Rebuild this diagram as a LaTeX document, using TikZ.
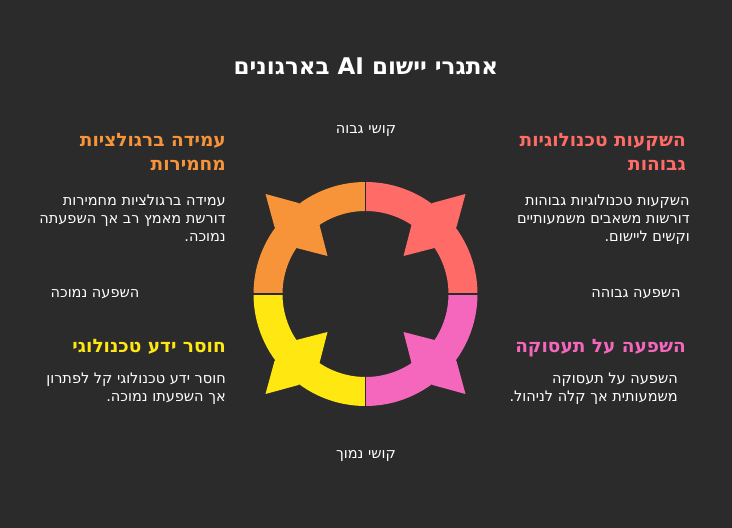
\documentclass[tikz,border=0pt]{standalone}
\usepackage{fontspec}
\setmainfont{DejaVu Sans}
\TeXXeTstate=1
\usetikzlibrary{positioning}
\definecolor{bgdark}{HTML}{2B2B2B}
\definecolor{quadred}{HTML}{FF6B66}
\definecolor{quadorange}{HTML}{F7943A}
\definecolor{quadyellow}{HTML}{FFE712}
\definecolor{quadpink}{HTML}{F467BC}
\tikzset{
  heading/.style={font=\bfseries\fontsize{18.5}{24}\selectfont, align=right, anchor=north east, inner sep=0pt},
  bodytext/.style={font=\fontsize{14.5}{18}\selectfont, text=white, align=right, anchor=north east, inner sep=0pt},
  axislabel/.style={font=\fontsize{14.5}{16}\selectfont, text=white, inner sep=0pt},
}
\newcommand{\quadpiece}[2]{% rotation, colour
  \fill[#2, rotate around={#1:(C)}] ($(C)+(180:112)$) arc (180:90:112) -- ($(C)+(90:83)$) arc (90:180:83) -- cycle;
  \fill[#2, rotate around={#1:(C)}] ($(C)+(-100,100)$) -- ($(C)+(-67,91)$) -- ($(C)+(-46,69)$) -- ($(C)+(-38,38)$)
    -- ($(C)+(-69,46)$) -- ($(C)+(-91,67)$) -- cycle;
}
\usetikzlibrary{calc}
\begin{document}
\begin{tikzpicture}[x=1pt,y=1pt]
\fill[bgdark] (0,0) rectangle (732,528);
\useasboundingbox (0,0) rectangle (732,528);

\coordinate (C) at (365.5,234);

% ring quadrants
\quadpiece{0}{quadorange}
\quadpiece{-90}{quadred}
\quadpiece{-180}{quadpink}
\quadpiece{90}{quadyellow}
\draw[bgdark, line width=1.5pt] ($(C)+(0,-114)$) -- ($(C)+(0,114)$);
\draw[bgdark, line width=1.5pt] ($(C)+(-114,0)$) -- ($(C)+(114,0)$);

% title
\node[font=\bfseries\fontsize{23}{26}\selectfont, text=white] (title) at (366,462) {\beginR אתגרי יישום \beginL AI\endL{} בארגונים\endR};

% axis labels
\node[axislabel] (hardhigh) at (366,397) {\beginR קושי גבוה\endR};
\node[axislabel] (hardlow) at (366,72) {\beginR קושי נמוך\endR};
\node[axislabel] (implow) at (95,234) {\beginR השפעה נמוכה\endR};
\node[axislabel] (imphigh) at (636,234) {\beginR השפעה גבוהה\endR};

% top right
\node[heading, text=quadred] (invhead) at (686,395) {\beginR השקעות טכנולוגיות\endR\\\beginR גבוהות\endR};
\node[bodytext] (invbody) at (690,333) {\beginR השקעות טכנולוגיות גבוהות\endR\\\beginR דורשות משאבים משמעותיים\endR\\\beginR וקשים ליישום.\endR};

% top left
\node[heading, text=quadorange] (reghead) at (226,395) {\beginR עמידה ברגולציות\endR\\\beginR מחמירות\endR};
\node[bodytext] (regbody) at (226,333) {\beginR עמידה ברגולציות מחמירות\endR\\\beginR דורשת מאמץ רב אך השפעתה\endR\\\beginR נמוכה.\endR};

% bottom right
\node[heading, text=quadpink] (jobhead) at (686,189) {\beginR השפעה על תעסוקה\endR};
\node[bodytext] (jobbody) at (678,155) {\beginR השפעה על תעסוקה\endR\\\beginR משמעותית אך קלה לניהול.\endR};

% bottom left
\node[heading, text=quadyellow] (skillhead) at (226,189) {\beginR חוסר ידע טכנולוגי\endR};
\node[bodytext] (skillbody) at (226,155) {\beginR חוסר ידע טכנולוגי קל לפתרון\endR\\\beginR אך השפעתו נמוכה.\endR};

\end{tikzpicture}
\end{document}
